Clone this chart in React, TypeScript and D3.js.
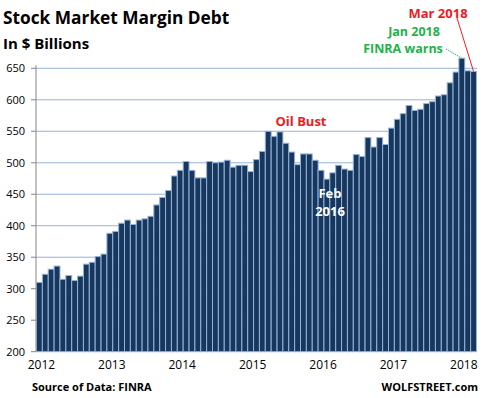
import React from "react";
import * as d3 from "d3";

const values: number[] = [
  310, 323, 331, 336, 315, 321, 313, 320, 339, 342, 351, 355,
  388, 391, 404, 409, 402, 409, 411, 415, 433, 445, 456, 479,
  488, 502, 488, 476, 476, 502, 500, 501, 504, 493, 496, 496,
  486, 505, 518, 550, 542, 549, 531, 517, 497, 514, 514, 504,
  488, 474, 484, 496, 490, 488, 513, 510, 540, 525, 540, 529,
  555, 569, 578, 591, 583, 585, 594, 597, 606, 608, 627, 644,
  666, 646, 645,
];
const startYear = 2012;
const yearLabels: string[] = ["2012", "2013", "2014", "2015", "2016", "2017", "2018"];
const yTicks: number[] = [200, 250, 300, 350, 400, 450, 500, 550, 600, 650];

const W = 482;
const H = 398;
const FONT = "'Open Sans', 'DejaVu Sans', sans-serif";

export default function App() {
  const idx = values.map((_, i) => i);
  const x = d3.scaleBand<number>().domain(idx).range([36.5, 476.5]).padding(0);
  const y = d3.scaleLinear().domain([200, 650]).range([351.7, 68.3]);
  const bw = x.bandwidth();
  const cx = (i: number) => (x(i) as number) + bw / 2;

  const janIdx = (yr: number) => (yr - startYear) * 12;
  const jan18 = janIdx(2018);
  const mar18 = jan18 + 2;

  return (
    <svg width={W} height={H} style={{ position: "absolute", left: 0, top: 0 }}>
      <rect width={W} height={H} fill="#fff" />
      {yTicks.filter((t) => t > 200).map((t) => (
        <line key={t} x1={36} x2={477} y1={y(t)} y2={y(t)} stroke="#95B3D7" strokeWidth={1} />
      ))}
      {values.map((v, i) => (
        <rect
          key={i}
          x={x(i) as number}
          y={y(v)}
          width={bw}
          height={y(200) - y(v)}
          fill="#17375E"
          stroke="#95B3D7"
          strokeWidth={1}
        />
      ))}
      <line x1={36} x2={36} y1={y(650) - 3} y2={y(200)} stroke="#868686" strokeWidth={1} />
      {yTicks.map((t) => (
        <g key={t}>
          <line x1={31} x2={36} y1={y(t)} y2={y(t)} stroke="#868686" />
          <text x={25} y={y(t)} dy="0.35em" textAnchor="end" fontFamily={FONT} fontSize={11} fill="#000">
            {t}
          </text>
        </g>
      ))}
      {yearLabels.map((lab, k) => (
        <text
          key={lab}
          x={cx(k * 12) + 2}
          y={365}
          dy="0.35em"
          textAnchor="middle"
          fontFamily={FONT}
          fontSize={12}
          fill="#000"
        >
          {lab}
        </text>
      ))}
      <text x={3} y={24} fontFamily={FONT} fontWeight="bold" fontSize={17.3} fill="#000">
        Stock Market Margin Debt
      </text>
      <text x={3} y={49} fontFamily={FONT} fontWeight="bold" fontSize={15} fill="#000">
        In $ Billions
      </text>
      <text x={301} y={126} textAnchor="middle" fontFamily={FONT} fontWeight="bold" fontSize={13} fill="#ED1C24">
        Oil Bust
      </text>
      <text x={330} y={198} textAnchor="middle" fontFamily={FONT} fontWeight="bold" fontSize={13} fill="#fff">
        Feb
      </text>
      <text x={330} y={216} textAnchor="middle" fontFamily={FONT} fontWeight="bold" fontSize={13} fill="#fff">
        2016
      </text>
      <text x={414} y={36} textAnchor="middle" fontFamily={FONT} fontWeight="bold" fontSize={12.5} fill="#22B14C">
        Jan 2018
      </text>
      <text x={403} y={53} textAnchor="middle" fontFamily={FONT} fontWeight="bold" fontSize={12.5} fill="#22B14C">
        FINRA warns
      </text>
      <text x={438} y={18} textAnchor="middle" fontFamily={FONT} fontWeight="bold" fontSize={13} fill="#ED1C24">
        Mar 2018
      </text>
      <line x1={446} y1={49} x2={cx(jan18)} y2={y(values[jan18])} stroke="#22B14C" strokeWidth={1} strokeDasharray="1.5,1" />
      <line x1={457} y1={18} x2={cx(mar18)} y2={y(values[mar18])} stroke="#ED1C24" strokeWidth={1} />
      <text x={32} y={391} fontFamily={FONT} fontWeight="bold" fontSize={11} fill="#000">
        Source of Data: FINRA
      </text>
      <text x={478} y={391} textAnchor="end" fontFamily={FONT} fontWeight="bold" fontSize={11} fill="#000">
        WOLFSTREET.com
      </text>
    </svg>
  );
}
